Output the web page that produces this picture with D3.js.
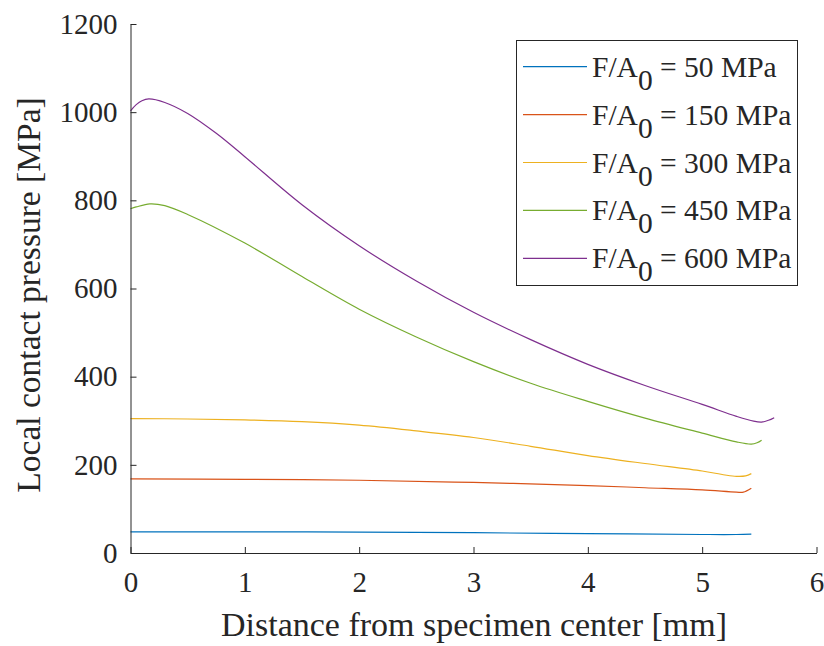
<!DOCTYPE html>
<html>
<head>
<meta charset="utf-8">
<script src="https://cdn.jsdelivr.net/npm/d3@7"></script>
<style>
  body { margin: 0; background: #fff; }
</style>
</head>
<body>
<svg id="chart" width="824" height="646" font-family="Liberation Serif"></svg>
<script>
// distance from specimen center [mm] and local contact pressure [MPa]
const x50  = [0, 1, 2, 3, 4, 5, 5.3, 5.43];
const p50  = [48, 48, 47.5, 46, 44, 42, 42, 43];
const x150 = [0, 1, 2, 3, 4, 4.5, 5, 5.3, 5.36, 5.43];
const p150 = [168, 167, 165, 160, 153, 148, 143, 138, 138, 147];
const x300 = [0, 0.5, 1, 1.5, 2, 2.5, 3, 3.5, 4, 4.5, 5, 5.2, 5.3, 5.38, 5.43];
const p300 = [305, 304, 302, 298, 290, 277, 262, 242, 221, 203, 186, 177, 174, 175, 180];
const x450 = [0, 0.05, 0.17, 0.3, 0.5, 1, 1.5, 2, 2.5, 3, 3.5, 4, 4.5, 5, 5.3, 5.43, 5.48, 5.52];
const p450 = [781, 785, 792, 788, 768, 703, 627, 553, 490, 434, 385, 344, 306, 272, 252, 247, 250, 256];
const x600 = [0, 0.05, 0.1, 0.16, 0.3, 0.5, 0.75, 1, 1.5, 2, 2.5, 3, 3.5, 4, 4.5, 5, 5.3, 5.45, 5.52, 5.58, 5.63];
const p600 = [1003, 1017, 1026, 1030, 1022, 997, 952, 899, 790, 697, 617, 546, 484, 428, 380, 337, 310, 299, 297, 301, 307];

const loads = ["50", "150", "300", "450", "600"];
const xTicks = [0, 1, 2, 3, 4, 5, 6];
const yTicks = [0, 200, 400, 600, 800, 1000, 1200];

const colors = ["#0072BD", "#D95319", "#EDB120", "#77AC30", "#7E2F8E"];
const serif = "'Liberation Serif', 'Times New Roman', serif";

const series = [
  {name: loads[0], xs: x50,  ys: p50},
  {name: loads[1], xs: x150, ys: p150},
  {name: loads[2], xs: x300, ys: p300},
  {name: loads[3], xs: x450, ys: p450},
  {name: loads[4], xs: x600, ys: p600}
].map(s => ({name: s.name, values: s.xs.map((d, i) => ({x: d, y: s.ys[i]}))}));

const svg = d3.select("#chart");

const x = d3.scaleLinear().domain([0, 6]).range([130.5, 816.5]);
const y = d3.scaleLinear().domain([0, 1200]).range([553, 24]);

// lines
const line = d3.line()
  .x(d => x(d.x))
  .y(d => y(d.y))
  .curve(d3.curveCatmullRom.alpha(0.5));

svg.append("g")
  .selectAll("path")
  .data(series)
  .enter()
  .append("path")
  .attr("fill", "none")
  .attr("stroke", (d, i) => colors[i])
  .attr("stroke-width", 1.2)
  .attr("d", d => line(d.values));

// axes, ticks pointing inward, no box
const xAxis = svg.append("g")
  .attr("transform", `translate(0,${y(0)})`)
  .call(d3.axisBottom(x).tickValues(xTicks).tickFormat(d3.format("d"))
    .tickSizeInner(-6).tickSizeOuter(0).tickPadding(18));
const yAxis = svg.append("g")
  .attr("transform", `translate(${x(0)},0)`)
  .call(d3.axisLeft(y).tickValues(yTicks).tickFormat(d3.format("d"))
    .tickSizeInner(-6).tickSizeOuter(0).tickPadding(13));

[xAxis, yAxis].forEach(a => {
  a.attr("font-family", serif).attr("font-size", 29);
  a.select(".domain").attr("stroke", "#262626").attr("stroke-width", 1);
  a.selectAll(".tick line").attr("stroke", "#262626");
  a.selectAll("text").attr("fill", "#262626");
});

// axis titles
svg.append("text")
  .attr("x", 474)
  .attr("y", 636)
  .attr("text-anchor", "middle")
  .attr("font-family", serif)
  .attr("font-size", 34)
  .attr("fill", "#262626")
  .text("Distance from specimen center [mm]");

svg.append("text")
  .attr("transform", "translate(40,295) rotate(-90)")
  .attr("text-anchor", "middle")
  .attr("font-family", serif)
  .attr("font-size", 33.5)
  .attr("fill", "#262626")
  .text("Local contact pressure [MPa]");

// legend
const legend = svg.append("g");
legend.append("rect")
  .attr("x", 516.5).attr("y", 40.5)
  .attr("width", 281).attr("height", 245)
  .attr("fill", "#fff")
  .attr("stroke", "#262626")
  .attr("stroke-width", 1);

const rows = legend.selectAll("g.row")
  .data(series)
  .enter()
  .append("g")
  .attr("class", "row")
  .attr("transform", (d, i) => `translate(0,${66.7 + i * 47.9})`);

rows.append("line")
  .attr("x1", 523).attr("x2", 587)
  .attr("y1", 0).attr("y2", 0)
  .attr("stroke", (d, i) => colors[i])
  .attr("stroke-width", 1.2);

const lt = rows.append("text")
  .attr("x", 592)
  .attr("y", 10)
  .attr("font-family", serif)
  .attr("font-size", 29.5)
  .attr("fill", "#262626");
lt.append("tspan").text("F/A");
lt.append("tspan").attr("dy", 13).text("0");
lt.append("tspan").attr("dy", -13).text(d => ` = ${d.name} MPa`);
</script>
</body>
</html>
